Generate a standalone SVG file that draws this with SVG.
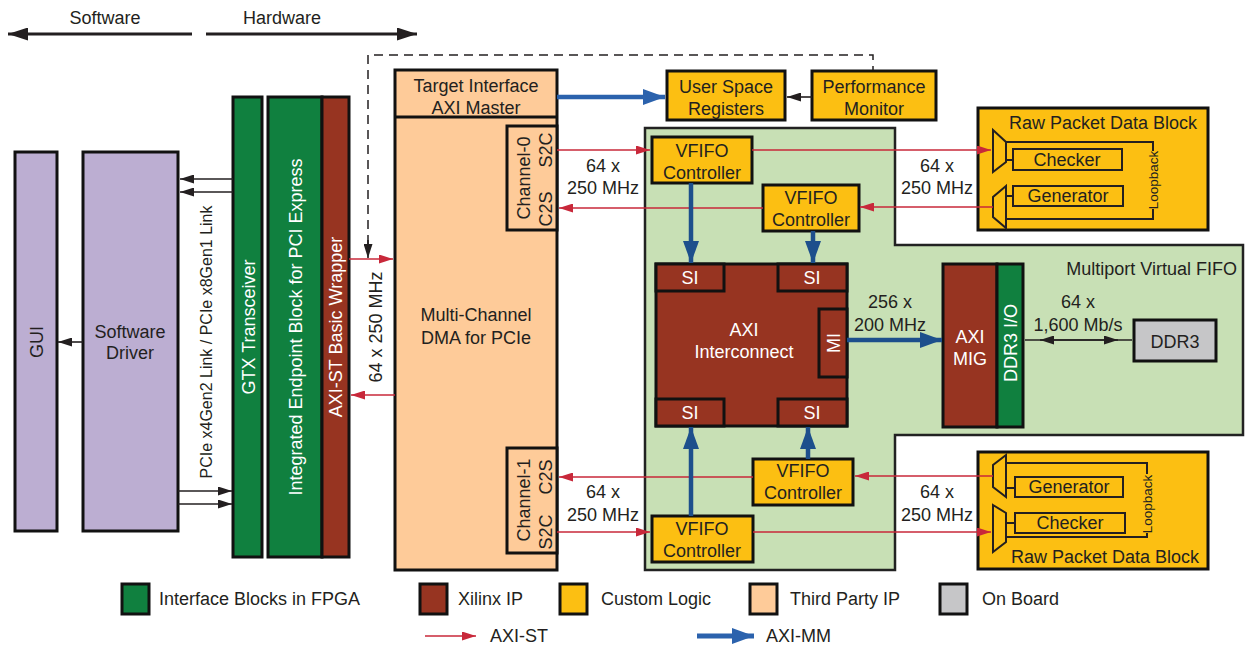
<svg xmlns="http://www.w3.org/2000/svg" width="1245" height="650" viewBox="0 0 1245 650">
<style>
text{font-family:"Liberation Sans",Arial,Helvetica,sans-serif;font-size:18px;fill:#231f20;text-anchor:middle}
.w{fill:#fff}
.sm{font-size:13.5px}
.lg{text-anchor:start}
.bx{stroke:#111;stroke-width:3}
.gr{fill:#10803f}
.br{fill:#973421}
.ye{fill:#fcbf12}
.pe{fill:#fecb99}
.pu{fill:#bcaed2}
.gy{fill:#c6c6c8}
.thin{fill:none;stroke:#231f20;stroke-width:2}
.red{stroke:#c8283a;stroke-width:1.6;fill:none;marker-end:url(#mr)}
.blu{stroke:#1d4f8c;stroke-width:4.5;fill:none;marker-end:url(#mb)}
.blk{stroke:#231f20;stroke-width:1.6;fill:none;marker-end:url(#mk)}
</style>
<defs>
<marker id="mr" markerUnits="userSpaceOnUse" markerWidth="14" markerHeight="9" refX="14" refY="4.5" orient="auto"><path d="M0,0 L14,4.5 L0,9 Z" fill="#c8283a"/></marker>
<marker id="mb" markerUnits="userSpaceOnUse" markerWidth="22" markerHeight="16" refX="22" refY="8" orient="auto"><path d="M0,0 L22,8 L0,16 Z" fill="#1d4f8c"/></marker>
<marker id="mb2" markerUnits="userSpaceOnUse" markerWidth="22" markerHeight="16" refX="22" refY="8" orient="auto"><path d="M0,0 L22,8 L0,16 Z" fill="#2b62ad"/></marker>
<marker id="mk" markerUnits="userSpaceOnUse" markerWidth="14" markerHeight="9" refX="14" refY="4.5" orient="auto"><path d="M0,0 L14,4.5 L0,9 Z" fill="#231f20"/></marker>
<marker id="mk2" markerUnits="userSpaceOnUse" markerWidth="14" markerHeight="9" refX="0" refY="4.5" orient="auto"><path d="M14,0 L0,4.5 L14,9 Z" fill="#231f20"/></marker>
<marker id="mbig" markerUnits="userSpaceOnUse" markerWidth="20" markerHeight="13" refX="20" refY="6.5" orient="auto"><path d="M0,0 L20,6.5 L0,13 Z" fill="#231f20"/></marker>
</defs>

<g id="header">
<text x="105" y="24">Software</text>
<text x="282" y="24">Hardware</text>
<line x1="192" y1="34" x2="8" y2="34" stroke="#231f20" stroke-width="3" marker-end="url(#mbig)"/>
<line x1="206" y1="34" x2="417" y2="34" stroke="#231f20" stroke-width="3" marker-end="url(#mbig)"/>
</g>

<g id="mvfifo">
<path d="M645,128 H895 V245 H1243 V435 H895 V570 H645 Z" fill="#c8e0b5" stroke="#222" stroke-width="2.5"/>
<text x="1237" y="275" style="text-anchor:end">Multiport Virtual FIFO</text>
</g>

<g id="gui"><rect class="bx pu" x="15" y="152" width="42" height="379"/>
<text transform="translate(36,342) rotate(-90)" y="6.5">GUI</text></g>

<g id="driver"><rect class="bx pu" x="83" y="152" width="95" height="379"/>
<text x="130" y="338">Software</text><text x="130" y="359">Driver</text></g>

<g id="pcie-label"><text transform="translate(206,342) rotate(-90)" y="6" style="font-size:16px">PCIe x4Gen2 Link / PCIe x8Gen1 Link</text></g>

<g id="gtx"><rect class="bx gr" x="233" y="97" width="29" height="460"/>
<text class="w" transform="translate(248,327) rotate(-90)" y="6.5">GTX Transceiver</text></g>

<g id="endpoint"><rect class="bx gr" x="268" y="97" width="54" height="460"/>
<text class="w" transform="translate(295,327) rotate(-90)" y="6.5">Integrated Endpoint Block for PCI Express</text></g>

<g id="wrapper"><rect class="bx br" x="322" y="97" width="27" height="460"/>
<text class="w" transform="translate(335.5,327) rotate(-90)" y="6.5">AXI-ST Basic Wrapper</text></g>

<g id="wrap-label"><text transform="translate(375,327) rotate(-90)" y="6.5">64 x 250 MHz</text></g>

<g id="dma">
<rect class="bx pe" x="395" y="70" width="162" height="500"/>
<line x1="395" y1="117" x2="557" y2="117" stroke="#111" stroke-width="3"/>
<text x="476" y="92">Target Interface</text><text x="476" y="114">AXI Master</text>
<text x="476" y="321">Multi-Channel</text><text x="476" y="344">DMA for PCIe</text>
</g>

<g id="channel0"><rect class="bx pe" x="507" y="126" width="50" height="104"/>
<text transform="translate(523,178) rotate(-90)" y="6.5">Channel-0</text>
<text transform="translate(545,150) rotate(-90)" y="6.5">S2C</text>
<text transform="translate(545,209) rotate(-90)" y="6.5">C2S</text></g>

<g id="channel1"><rect class="bx pe" x="507" y="448" width="50" height="105"/>
<text transform="translate(523,500) rotate(-90)" y="6.5">Channel-1</text>
<text transform="translate(545,477) rotate(-90)" y="6.5">C2S</text>
<text transform="translate(545,532) rotate(-90)" y="6.5">S2C</text></g>

<g id="usr"><rect class="bx ye" x="667" y="71" width="118" height="49"/>
<text x="726" y="93">User Space</text><text x="726" y="115">Registers</text></g>

<g id="perfmon"><rect class="bx ye" x="812" y="71" width="124" height="49"/>
<text x="874" y="93">Performance</text><text x="874" y="115">Monitor</text></g>

<g id="vfifo0"><rect class="bx ye" x="652" y="137" width="100" height="46"/>
<text x="702" y="157">VFIFO</text><text x="702" y="179">Controller</text></g>

<g id="vfifo1"><rect class="bx ye" x="763" y="185" width="96" height="46"/>
<text x="811" y="204">VFIFO</text><text x="811" y="226">Controller</text></g>

<g id="vfifo2"><rect class="bx ye" x="753" y="459" width="100" height="46"/>
<text x="803" y="477">VFIFO</text><text x="803" y="499">Controller</text></g>

<g id="vfifo3"><rect class="bx ye" x="652" y="516" width="101" height="46"/>
<text x="702" y="535">VFIFO</text><text x="702" y="557">Controller</text></g>

<g id="interconnect">
<rect class="bx br" x="656" y="264" width="191" height="162"/>
<rect class="bx br" x="656" y="264" width="68" height="27"/>
<rect class="bx br" x="778" y="264" width="69" height="27"/>
<rect class="bx br" x="656" y="399" width="68" height="27"/>
<rect class="bx br" x="778" y="399" width="69" height="27"/>
<rect class="bx br" x="819" y="309" width="28" height="68"/>
<text class="w" x="690" y="284">SI</text><text class="w" x="812" y="284">SI</text>
<text class="w" x="690" y="419">SI</text><text class="w" x="812" y="419">SI</text>
<text class="w" transform="translate(833,343) rotate(-90)" y="6.5">MI</text>
<text class="w" x="744" y="336">AXI</text><text class="w" x="744" y="358">Interconnect</text>
</g>

<g id="mig">
<rect class="bx br" x="943" y="264" width="54" height="163"/>
<rect class="bx gr" x="997" y="264" width="26" height="163"/>
<text class="w" x="970" y="343">AXI</text><text class="w" x="970" y="365">MIG</text>
<text class="w" transform="translate(1010,343) rotate(-90)" y="6.5">DDR3 I/O</text>
</g>

<g id="ddr3"><rect class="bx gy" x="1134" y="320" width="82" height="41"/>
<text x="1175" y="348">DDR3</text></g>

<g id="rawtop">
<rect class="bx ye" x="978" y="108" width="230" height="122"/>
<text x="1103" y="129">Raw Packet Data Block</text>
<polygon class="thin" points="993,130 1006,142 1006,162 993,172"/>
<polygon class="thin" points="1006,186 993,197 993,217 1006,228"/>
<rect class="thin" x="1013" y="149" width="109" height="21"/>
<rect class="thin" x="1013" y="186" width="110" height="20"/>
<path class="thin" d="M1006,160 H1013 M1006,196 H1013 M1006,142 H1153 V151 M1153,209 V219 H1006"/>
<text class="sm" transform="translate(1153,180) rotate(-90)" y="4.5">Loopback</text>
<text x="1067" y="166">Checker</text><text x="1068" y="202">Generator</text>
</g>

<g id="rawbot">
<rect class="bx ye" x="978" y="452" width="230" height="117"/>
<text x="1105" y="563">Raw Packet Data Block</text>
<polygon class="thin" points="1006,455 993,465 993,487 1006,497"/>
<polygon class="thin" points="993,505 1006,513 1006,542 993,552"/>
<rect class="thin" x="1015" y="477" width="108" height="20"/>
<rect class="thin" x="1015" y="513" width="110" height="20"/>
<path class="thin" d="M1006,488 H1015 M1006,523 H1015 M1006,463 H1147 V474 M1147,533 V537 H1006"/>
<text class="sm" transform="translate(1147,504) rotate(-90)" y="4.5">Loopback</text>
<text x="1069" y="493">Generator</text><text x="1070" y="529">Checker</text>
</g>

<g id="labels">
<text x="603" y="172">64 x</text><text x="603" y="194">250 MHz</text>
<text x="937" y="172">64 x</text><text x="937" y="194">250 MHz</text>
<text x="603" y="498">64 x</text><text x="603" y="521">250 MHz</text>
<text x="937" y="498">64 x</text><text x="937" y="521">250 MHz</text>
<text x="890" y="308">256 x</text><text x="890" y="331">200 MHz</text>
<text x="1078" y="308">64 x</text><text x="1078" y="331">1,600 Mb/s</text>
</g>

<g id="connectors">
<line class="blk" x1="233" y1="179" x2="180" y2="179"/>
<line class="blk" x1="233" y1="192" x2="180" y2="192"/>
<line class="blk" x1="178" y1="491" x2="232" y2="491"/>
<line class="blk" x1="178" y1="504" x2="232" y2="504"/>
<line class="blk" x1="83" y1="342" x2="58" y2="342"/>
<path d="M368,244 V55 H873 V70" fill="none" stroke="#231f20" stroke-width="1.5" stroke-dasharray="9,6"/>
<line class="blk" x1="368" y1="240" x2="368" y2="258"/>
<line class="red" x1="349" y1="259" x2="393" y2="259"/>
<line class="red" x1="395" y1="395" x2="351" y2="395"/>
<line class="blk" x1="812" y1="97" x2="787" y2="97"/>
<line x1="557" y1="97" x2="665" y2="97" stroke="#2b62ad" stroke-width="4.5" marker-end="url(#mb2)"/>
<line class="red" x1="557" y1="150" x2="650" y2="150"/>
<line class="red" x1="763" y1="208" x2="559" y2="208"/>
<line class="red" x1="752" y1="150" x2="991" y2="150"/>
<line class="red" x1="993" y1="207" x2="860" y2="207"/>
<line class="red" x1="753" y1="477" x2="559" y2="477"/>
<line class="red" x1="557" y1="532" x2="650" y2="532"/>
<line class="red" x1="993" y1="476" x2="855" y2="476"/>
<line class="red" x1="753" y1="532" x2="991" y2="532"/>
<line class="blu" x1="691" y1="183" x2="691" y2="263"/>
<line class="blu" x1="813" y1="231" x2="813" y2="263"/>
<line class="blu" x1="691" y1="516" x2="691" y2="427"/>
<line class="blu" x1="808" y1="459" x2="808" y2="427"/>
<line class="blu" x1="847" y1="340" x2="942" y2="340"/>
<line x1="1040" y1="340" x2="1118" y2="340" stroke="#231f20" stroke-width="1.6" marker-start="url(#mk2)" marker-end="url(#mk)"/>
<line x1="1025" y1="340" x2="1132" y2="340" stroke="#231f20" stroke-width="1.6"/>
</g>

<g id="legend">
<rect class="bx gr" x="122" y="584" width="27" height="30"/>
<text class="lg" x="159" y="605">Interface Blocks in FPGA</text>
<rect class="bx br" x="420" y="584" width="27" height="30"/>
<text class="lg" x="458" y="605">Xilinx IP</text>
<rect class="bx ye" x="560" y="584" width="27" height="30"/>
<text class="lg" x="601" y="605">Custom Logic</text>
<rect class="bx pe" x="750" y="584" width="27" height="30"/>
<text class="lg" x="790" y="605">Third Party IP</text>
<rect class="bx gy" x="940" y="584" width="27" height="30"/>
<text class="lg" x="982" y="605">On Board</text>
<line class="red" x1="425" y1="636" x2="476" y2="636"/>
<text class="lg" x="490" y="642">AXI-ST</text>
<line x1="697" y1="636" x2="754" y2="636" stroke="#2b62ad" stroke-width="5" marker-end="url(#mb2)"/>
<text class="lg" x="766" y="642">AXI-MM</text>
</g>
</svg>
